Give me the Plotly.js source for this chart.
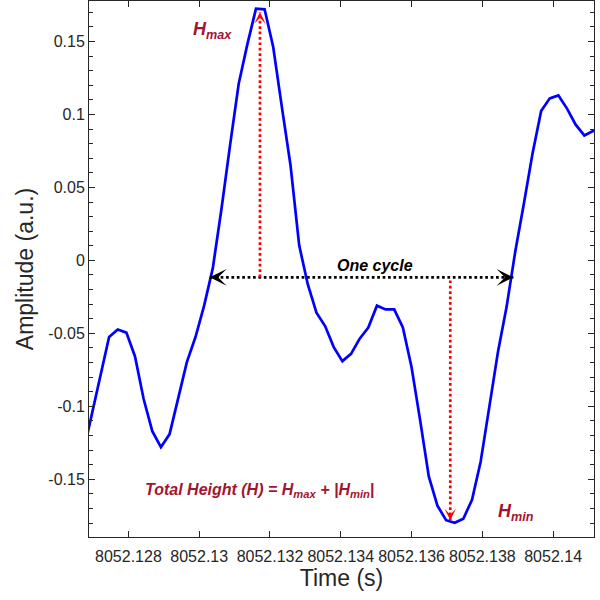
<!DOCTYPE html>
<html>
<head>
<meta charset="utf-8">
<script src="https://cdn.plot.ly/plotly-3.0.1.min.js"></script>
<style>
  html, body { margin: 0; padding: 0; background: #fff; }
  #chart { width: 600px; height: 600px; }
</style>
</head>
<body>
<div id="chart"></div>
<script>
// samples (about 4096 Hz)
var time = [
    8052.126721, 8052.126965, 8052.127209, 8052.127454, 8052.127698,
    8052.127942, 8052.128186, 8052.128430, 8052.128674, 8052.128918,
    8052.129163, 8052.129407, 8052.129651, 8052.129895, 8052.130139,
    8052.130383, 8052.130628, 8052.130872, 8052.131116, 8052.131360,
    8052.131604, 8052.131848, 8052.132092, 8052.132336, 8052.132581,
    8052.132825, 8052.133069, 8052.133313, 8052.133557, 8052.133801,
    8052.134045, 8052.134290, 8052.134534, 8052.134778, 8052.135022,
    8052.135266, 8052.135510, 8052.135754, 8052.135999, 8052.136243,
    8052.136487, 8052.136731, 8052.136975, 8052.137219, 8052.137463,
    8052.137708, 8052.137952, 8052.138196, 8052.138440, 8052.138684,
    8052.138928, 8052.139173, 8052.139417, 8052.139661, 8052.139905,
    8052.140149, 8052.140393, 8052.140637, 8052.140882, 8052.141126,
    8052.141370
];
var amplitude = [
    -0.132, -0.106, -0.078, -0.0525, -0.0473,
    -0.0495, -0.0658, -0.095, -0.117, -0.128,
    -0.119, -0.0945, -0.0697, -0.0525, -0.031,
    -0.0055, 0.035, 0.079, 0.121, 0.148,
    0.1724, 0.172, 0.146, 0.105, 0.065,
    0.0103, -0.0165, -0.0358, -0.045, -0.0594,
    -0.069, -0.064, -0.0536, -0.046, -0.031,
    -0.0336, -0.0336, -0.046, -0.073, -0.1096,
    -0.148, -0.168, -0.178, -0.1797, -0.177,
    -0.164, -0.138, -0.1005, -0.063, -0.032,
    0.0057, 0.0388, 0.073, 0.1023, 0.111,
    0.113, 0.104, 0.093, 0.0856, 0.0886,
    0.0905
];

var xTickVals = [8052.128, 8052.130, 8052.132, 8052.134, 8052.136, 8052.138, 8052.140];
var xTickText = ['8052.128', '8052.13', '8052.132', '8052.134', '8052.136', '8052.138', '8052.14'];
var yTickVals = [-0.15, -0.1, -0.05, 0, 0.05, 0.1, 0.15];
var yTickText = ['-0.15', '-0.1', '-0.05', '0', '0.05', '0.1', '0.15'];

// where the marker arrows sit
var cycleStart = 8052.13030;
var cycleEnd = 8052.138877;
var cycleLevel = -0.0116;
var hmaxTime = 8052.131717;
var hmaxTop = 0.170;
var hminTime = 8052.137094;
var hminTop = -0.0137;
var hminBottom = -0.178;

var axisColor = '#262626';
var labelRed = '#A2142F';
var fontFam = '"Liberation Sans", Arial, Helvetica, sans-serif';

var trace = {
    x: time,
    y: amplitude,
    type: 'scatter',
    mode: 'lines',
    line: {color: '#0000FF', width: 2.7},
    hoverinfo: 'x+y'
};

var dotted = '2.7px,2.7px';

var layout = {
    width: 600,
    height: 600,
    margin: {l: 89, r: 6, t: 1, b: 63},
    paper_bgcolor: '#fff',
    plot_bgcolor: '#fff',
    showlegend: false,
    font: {family: fontFam, color: axisColor},
    xaxis: {
        range: [8052.126886, 8052.141155],
        tickvals: xTickVals,
        ticktext: xTickText,
        ticks: 'inside',
        ticklen: 6,
        tickwidth: 1,
        tickcolor: axisColor,
        tickfont: {size: 16, color: axisColor},
        ticklabelstandoff: 5,
        showline: true,
        linecolor: axisColor,
        linewidth: 1,
        mirror: 'ticks',
        showgrid: false,
        zeroline: false,
        title: {text: 'Time (s)', font: {size: 23, color: axisColor}, standoff: 3}
    },
    yaxis: {
        range: [-0.1895, 0.1777],
        tickvals: yTickVals,
        ticktext: yTickText,
        ticks: 'inside',
        ticklen: 6,
        tickwidth: 1,
        tickcolor: axisColor,
        tickfont: {size: 16, color: axisColor},
        minor: {dtick: 0.01, ticks: 'inside', ticklen: 4, tickcolor: axisColor, tickwidth: 1},
        showline: true,
        linecolor: axisColor,
        linewidth: 1,
        mirror: 'ticks',
        showgrid: false,
        zeroline: false,
        title: {text: 'Amplitude (a.u.)', font: {size: 23, color: axisColor}, standoff: 8}
    },
    shapes: [
        {type: 'line', xref: 'x', yref: 'y', x0: cycleStart, x1: cycleEnd, y0: cycleLevel, y1: cycleLevel,
            line: {color: '#000', width: 2.7, dash: dotted}},
        {type: 'line', xref: 'x', yref: 'y', x0: hmaxTime, x1: hmaxTime, y0: cycleLevel, y1: hmaxTop,
            line: {color: '#FF0000', width: 2.7, dash: dotted}},
        {type: 'line', xref: 'x', yref: 'y', x0: hminTime, x1: hminTime, y0: hminTop, y1: hminBottom,
            line: {color: '#FF0000', width: 2.7, dash: dotted}}
    ],
    annotations: [
        // arrow heads
        {x: cycleStart, y: cycleLevel, ax: 10, ay: 0, showarrow: true, arrowhead: 3,
            arrowsize: 1.4, arrowwidth: 2, arrowcolor: '#000', text: ''},
        {x: cycleEnd, y: cycleLevel, ax: -10, ay: 0, showarrow: true, arrowhead: 3,
            arrowsize: 1.4, arrowwidth: 2, arrowcolor: '#000', text: ''},
        {x: hmaxTime, y: hmaxTop, ax: 0, ay: 7, showarrow: true, arrowhead: 3,
            arrowsize: 0.95, arrowwidth: 2, arrowcolor: '#FF0000', text: ''},
        {x: hminTime, y: hminBottom, ax: 0, ay: -7, showarrow: true, arrowhead: 3,
            arrowsize: 0.95, arrowwidth: 2, arrowcolor: '#FF0000', text: ''},
        // labels
        {x: 8052.134957, y: -0.0034, text: 'One cycle', showarrow: false, xanchor: 'center', yanchor: 'middle',
            font: {size: 16, color: '#000', weight: 'bold', style: 'italic'}},
        {x: 8052.129764, y: 0.1575, text: 'H<sub>max</sub>', showarrow: false, xanchor: 'left', yanchor: 'middle',
            font: {size: 18, color: labelRed, weight: 'bold', style: 'italic'}},
        {x: 8052.138396, y: -0.1726, text: 'H<sub>min</sub>', showarrow: false, xanchor: 'left', yanchor: 'middle',
            font: {size: 18, color: labelRed, weight: 'bold', style: 'italic'}},
        {x: 8052.128414, y: -0.1575, text: 'Total Height (H) = H<sub>max</sub> + |H<sub>min</sub>|',
            showarrow: false, xanchor: 'left', yanchor: 'middle',
            font: {size: 16, color: labelRed, weight: 'bold', style: 'italic'}}
    ]
};

Plotly.newPlot('chart', [trace], layout, {displayModeBar: false, staticPlot: true});
</script>
</body>
</html>
